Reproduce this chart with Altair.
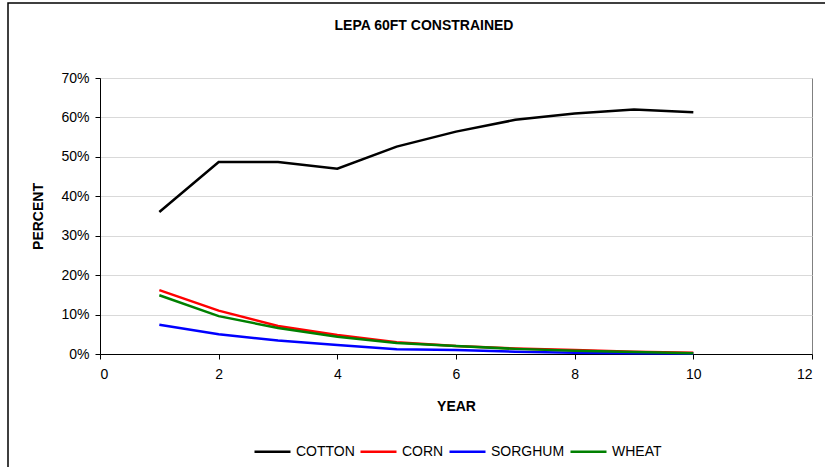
import altair as alt
import pandas as pd

years = [1, 2, 3, 4, 5, 6, 7, 8, 9, 10]
cotton = [0.360, 0.487, 0.487, 0.470, 0.526, 0.564, 0.594, 0.610, 0.620, 0.613]
corn = [0.162, 0.110, 0.071, 0.048, 0.030, 0.020, 0.014, 0.010, 0.006, 0.003]
sorghum = [0.074, 0.050, 0.034, 0.023, 0.012, 0.010, 0.006, 0.003, 0.002, 0.001]
wheat = [0.149, 0.096, 0.066, 0.044, 0.028, 0.020, 0.013, 0.008, 0.005, 0.002]

series = {"COTTON": cotton, "CORN": corn, "SORGHUM": sorghum, "WHEAT": wheat}
crops = list(series.keys())
colors = ["#000000", "#FF0000", "#0000FF", "#008000"]

rows = []
for crop, vals in series.items():
    for y, v in zip(years, vals):
        rows.append({"YEAR": y, "PERCENT": v, "CROP": crop})
df = pd.DataFrame(rows)

FONT = "Liberation Sans"

lines = alt.Chart(df).mark_line(strokeWidth=2.5).encode(
    x=alt.X("YEAR:Q", scale=alt.Scale(domain=[0, 12], nice=False),
            axis=alt.Axis(values=[0, 2, 4, 6, 8, 10, 12], grid=False, title="YEAR",
                          titleX=356, titleY=52, titleBaseline="middle")),
    y=alt.Y("PERCENT:Q", scale=alt.Scale(domain=[0, 0.7], nice=False),
            axis=alt.Axis(values=[0, 0.1, 0.2, 0.3, 0.4, 0.5, 0.6, 0.7], format=".0%",
                          grid=True, title="PERCENT", titleX=-62, titleY=138,
                          titleAngle=270, titleAlign="center", titleBaseline="middle")),
    color=alt.Color("CROP:N", scale=alt.Scale(domain=crops, range=colors),
                    sort=crops,
                    legend=alt.Legend(orient="none", legendX=153, legendY=354,
                                      direction="horizontal", title=None,
                                      symbolType="stroke", symbolSize=1296,
                                      symbolStrokeWidth=2.5, labelOffset=4,
                                      columnPadding=0)),
)

frame = alt.Chart(alt.Data(values=[{}])).mark_rect(
    fill="transparent", stroke="#000000", strokeWidth=1.5
).encode(
    x=alt.value(-92), x2=alt.value(800), y=alt.value(-75), y2=alt.value(600)
)

chart = alt.layer(frame, lines).properties(
    width=712, height=276,
    autosize=alt.AutoSizeParams(type="none"),
    padding={"left": 100, "top": 78, "right": 13, "bottom": 113},
    title=alt.Title("LEPA 60FT CONSTRAINED", anchor="middle", dx=-32, offset=-38,
                    baseline="middle", frame="group", font=FONT, fontSize=14,
                    fontWeight="bold", color="#000000"),
).configure_view(
    stroke="#808080", strokeWidth=1
).configure_axis(
    labelFont=FONT, labelFontSize=14, labelColor="#000000",
    titleFont=FONT, titleFontSize=14, titleFontWeight="bold", titleColor="#000000",
    domainColor="#000000", domainWidth=1, tickColor="#000000", tickSize=5,
    gridColor="#D9D9D9", gridWidth=1,
).configure_axisY(
    labelPadding=6
).configure_axisX(
    labelPadding=8
).configure_legend(
    labelFont=FONT, labelFontSize=14, labelColor="#000000", padding=0
)

chart.save("out.html", embed_options={"renderer": "svg", "actions": False})
